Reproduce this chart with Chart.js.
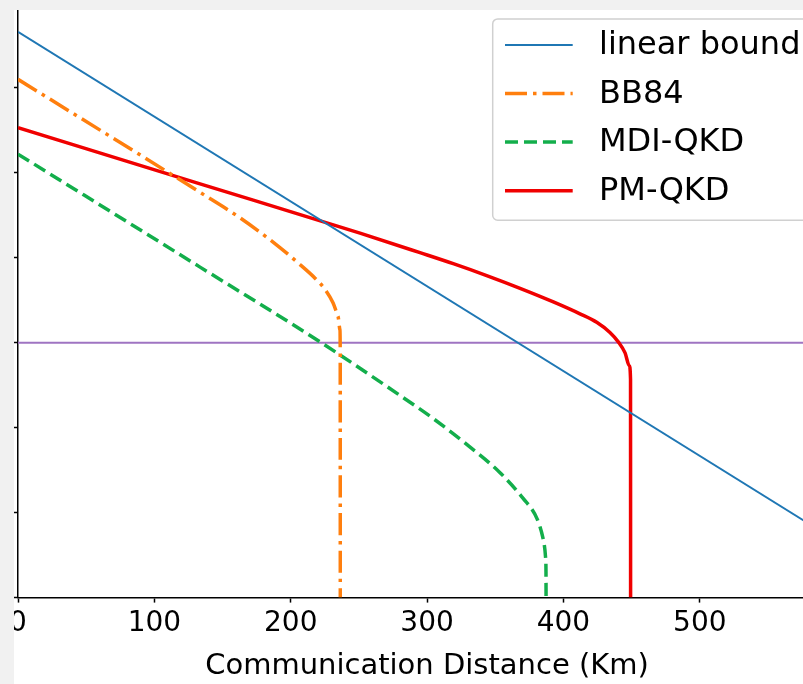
<!DOCTYPE html>
<html>
<head>
<meta charset="utf-8">
<script src="https://cdn.jsdelivr.net/npm/chart.js@4.4.1/dist/chart.umd.min.js"></script>
<style>
    html, body { margin: 0; padding: 0; background: #f1f1f1; overflow: hidden; }
    #frame { position: absolute; left: 14px; top: 10px; width: 789px; height: 674px; background: #fff; overflow: hidden; }
    #keyRate { position: absolute; left: 0; top: 0; width: 883px; height: 720px; }
</style>
</head>
<body>
<div id="frame"><canvas id="keyRate" width="883" height="720"></canvas></div>
<script>
// distance in km, key rate in (unlabelled) log units
const linearKm = [0, 600];
const linearRate = [6.66, 0.67];

const bb84Km = [0, 133.5, 162.8, 192.1, 206.8, 217.8, 225.1, 231.0, 234.7, 236.1, 236.3, 236.35];
const bb84Rate = [6.10, 4.77, 4.47, 4.12, 3.92, 3.76, 3.63, 3.47, 3.31, 3.15, 2.90, 0];

const mdiKm = [0, 133.5, 221.5, 280.1, 304.3, 329.3, 353.5, 370.3, 380.6, 385.0, 387.0, 387.2, 387.25];
const mdiRate = [5.22, 3.89, 3.01, 2.38, 2.11, 1.80, 1.47, 1.17, 0.93, 0.70, 0.45, 0.30, 0];

const pmKm = [0, 133.5, 250.8, 294.8, 319.2, 343.7, 368.2, 392.6, 412.1, 424.4, 434.1, 440.2, 445.2, 448.3, 449.2, 449.25];
const pmRate = [5.53, 4.87, 4.29, 4.06, 3.93, 3.79, 3.64, 3.48, 3.34, 3.24, 3.12, 3.01, 2.88, 2.73, 2.57, 0];

const thresholdKm = [0, 700];
const thresholdRate = [3.0, 3.0];

const xTicks = [0, 100, 200, 300, 400, 500, 600];
const yTicks = [0, 1, 2, 3, 4, 5, 6, 7];

const FONT = '"DejaVu Sans", "Liberation Sans", sans-serif';

// where the axes sit inside the white frame, and the scale of the picture
const AXIS_LEFT = 4;
const AXIS_BOTTOM = 588;
const PX_PER_KM = 1.3636;
const PX_PER_UNIT = 85.2;

const toPoints = (xs, ys) => xs.map((x, i) => ({ x: x, y: ys[i] }));

/* ===============================
   Legend drawn inside the plot
================================ */
const boxLegend = {
    id: 'boxLegend',
    afterDatasetsDraw(chart) {
        const { ctx, chartArea } = chart;
        const left = chartArea.left + 474.7;
        const top = chartArea.bottom - 578.7;
        const width = chartArea.right - 8 - left;
        const height = 201.4;

        ctx.save();
        ctx.beginPath();
        ctx.roundRect(left, top, width, height, 5);
        ctx.fillStyle = 'rgba(255,255,255,0.8)';
        ctx.fill();
        ctx.lineWidth = 1.5;
        ctx.strokeStyle = '#d0d0d0';
        ctx.stroke();

        const entries = chart.data.datasets.filter(ds => ds.inLegend);
        entries.forEach((ds, i) => {
            const y = top + 26 + i * 48.6;
            ctx.beginPath();
            ctx.setLineDash(ds.borderDash || []);
            ctx.lineCap = 'butt';
            ctx.lineWidth = ds.borderWidth;
            ctx.strokeStyle = ds.borderColor;
            ctx.moveTo(left + 12.3, y);
            ctx.lineTo(left + 80, y);
            ctx.stroke();

            ctx.setLineDash([]);
            ctx.fillStyle = '#000';
            ctx.font = '32px ' + FONT;
            ctx.textBaseline = 'middle';
            ctx.textAlign = 'left';
            ctx.fillText(ds.label, left + 106.3, y + 1);
        });
        ctx.restore();
    }
};

const lineStyle = { pointRadius: 0, cubicInterpolationMode: 'monotone', fill: false, borderCapStyle: 'butt' };

const canvas = document.getElementById('keyRate');
const chart = new Chart(canvas, {
    type: 'line',
    data: {
        datasets: [
            { ...lineStyle, label: 'linear bound', inLegend: true, data: toPoints(linearKm, linearRate),
              borderColor: '#1f77b4', borderWidth: 2 },
            { ...lineStyle, label: 'BB84', inLegend: true, data: toPoints(bb84Km, bb84Rate),
              borderColor: '#ff7f0e', borderWidth: 3.5, borderDash: [22, 6, 3.5, 6] },
            { ...lineStyle, label: 'MDI-QKD', inLegend: true, data: toPoints(mdiKm, mdiRate),
              borderColor: '#13ae4b', borderWidth: 3.5, borderDash: [13, 6] },
            { ...lineStyle, label: 'PM-QKD', inLegend: true, data: toPoints(pmKm, pmRate),
              borderColor: '#f00000', borderWidth: 3.5 },
            { ...lineStyle, label: 'threshold', inLegend: false, data: toPoints(thresholdKm, thresholdRate),
              borderColor: '#9f74c2', borderWidth: 2 }
        ]
    },
    options: {
        responsive: false,
        maintainAspectRatio: false,
        devicePixelRatio: 1,
        animation: false,
        layout: { padding: { left: 20, right: 40, top: 0, bottom: 10 } },
        plugins: { legend: { display: false }, tooltip: { enabled: false } },
        scales: {
            x: {
                type: 'linear',
                min: 0,
                max: 620,
                afterBuildTicks: axis => { axis.ticks = xTicks.filter(v => v <= axis.max).map(v => ({ value: v })); },
                grid: { drawOnChartArea: false, drawTicks: true, tickLength: 5, tickColor: '#000', tickWidth: 1.5 },
                border: { display: true, color: '#000', width: 1.5 },
                ticks: { color: '#000', font: { family: FONT, size: 28 }, padding: 4, maxRotation: 0, autoSkip: false },
                title: { display: true, text: 'Communication Distance (Km)', color: '#000',
                         font: { family: FONT, size: 29 }, padding: { top: 5, bottom: 6 } }
            },
            y: {
                type: 'linear',
                min: 0,
                max: 7.3,
                afterBuildTicks: axis => { axis.ticks = yTicks.filter(v => v <= axis.max).map(v => ({ value: v })); },
                grid: { drawOnChartArea: false, drawTicks: true, tickLength: 5, tickColor: '#000', tickWidth: 1.5 },
                border: { display: true, color: '#000', width: 1.5 },
                ticks: { display: false }
            }
        }
    },
    plugins: [boxLegend]
});

// fit the ranges so the axes keep the reference's scale, then place the canvas
const area = chart.chartArea;
chart.options.scales.x.max = (area.right - area.left) / PX_PER_KM;
chart.options.scales.y.max = (area.bottom - area.top) / PX_PER_UNIT;
chart.update();
canvas.style.left = (AXIS_LEFT - chart.chartArea.left) + 'px';
canvas.style.top = (AXIS_BOTTOM - chart.chartArea.bottom) + 'px';
</script>
</body>
</html>
